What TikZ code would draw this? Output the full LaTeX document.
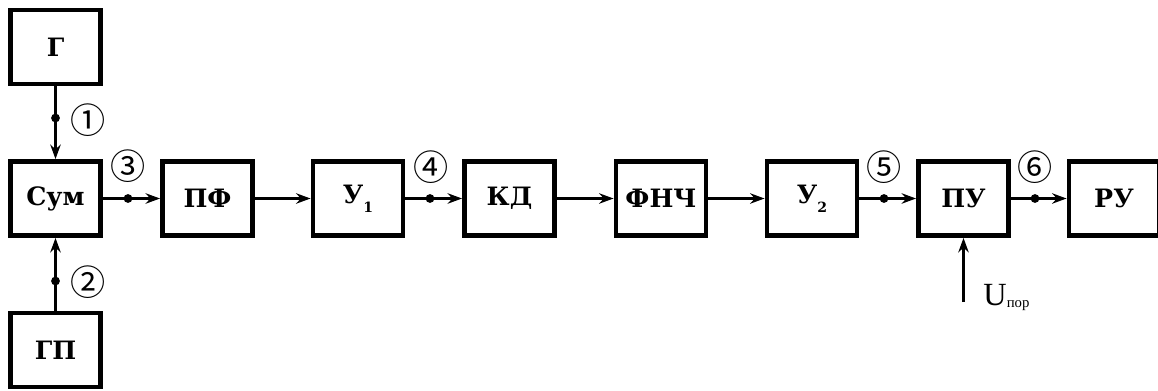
\documentclass[tikz,border=0pt]{standalone}
\usepackage{fontspec}
\setmainfont{Liberation Serif}
\newfontfamily\zhirn{DejaVu Serif}
\newfontfamily\krug{Noto Sans CJK SC}
\usetikzlibrary{arrows.meta}

\newcommand{\indx}[1]{\raisebox{-6.5pt}{\fontsize{10}{10}\selectfont #1}}

\tikzset{
    blok/.style={draw, line width=3.5pt, minimum width=2.25cm, minimum height=1.85cm, inner sep=0pt,
        font=\zhirn\bfseries\fontsize{18}{22}\selectfont},
    tochka/.style={circle, fill, inner sep=0pt, minimum size=2.2mm},
    nomer/.style={inner sep=0pt, font=\krug\fontsize{25}{25}\selectfont},
    strelka/.style={line width=1.6pt, -{Stealth[length=3.6mm, width=2.6mm]}}
}

\begin{document}
\begin{tikzpicture}
    \useasboundingbox (0,0) rectangle (28.95,9.75);
    \path node[blok] (G) at (1.3875,8.575) {Г}
        node[blok] (Sum) at (1.3875,4.7875) {Сум}
        node[blok] (GP) at (1.3875,1.0) {ГП}
        node[blok] (PF) at (5.1875,4.7875) {ПФ}
        node[blok] (U1) at (8.95,4.7875) {У\indx{1}}
        node[blok] (KD) at (12.7375,4.7875) {КД}
        node[blok] (FNCh) at (16.525,4.7875) {ФНЧ}
        node[blok] (U2) at (20.3,4.7875) {У\indx{2}}
        node[blok] (PU) at (24.0875,4.7875) {ПУ}
        node[blok] (RU) at (27.85,4.7875) {РУ};
    \path node[tochka] (t1) at (1.3875,6.8) {}
        node[tochka] (t2) at (1.3875,2.725) {}
        node[tochka] (t3) at (3.2,4.7875) {}
        node[tochka] (t4) at (10.75,4.7875) {}
        node[tochka] (t5) at (22.1,4.7875) {}
        node[tochka] (t6) at (25.875,4.7875) {};
    \path node[nomer] (n1) at (2.2,6.75) {①}
        node[nomer] (n2) at (2.2,2.7) {②}
        node[nomer] (n3) at (3.2,5.6) {③}
        node[nomer] (n4) at (10.775,5.575) {④}
        node[nomer] (n5) at (22.1,5.575) {⑤}
        node[nomer] (n6) at (25.875,5.575) {⑥};
    \coordinate (Upor) at (24.0875,2.2);
    \node[anchor=base west, inner sep=0pt, font=\fontsize{23}{24}\selectfont] (Ulab) at (24.58,2.125)
        {U\raisebox{-2pt}{\fontsize{10.5}{11}\selectfont пор}};
    \draw[strelka] (G) -- (Sum);
    \draw[strelka] (GP) -- (Sum);
    \draw[strelka] (Sum) -- (PF);
    \draw[strelka] (PF) -- (U1);
    \draw[strelka] (U1) -- (KD);
    \draw[strelka] (KD) -- (FNCh);
    \draw[strelka] (FNCh) -- (U2);
    \draw[strelka] (U2) -- (PU);
    \draw[strelka] (PU) -- (RU);
    \draw[strelka] (Upor) -- (PU);
\end{tikzpicture}
\end{document}
